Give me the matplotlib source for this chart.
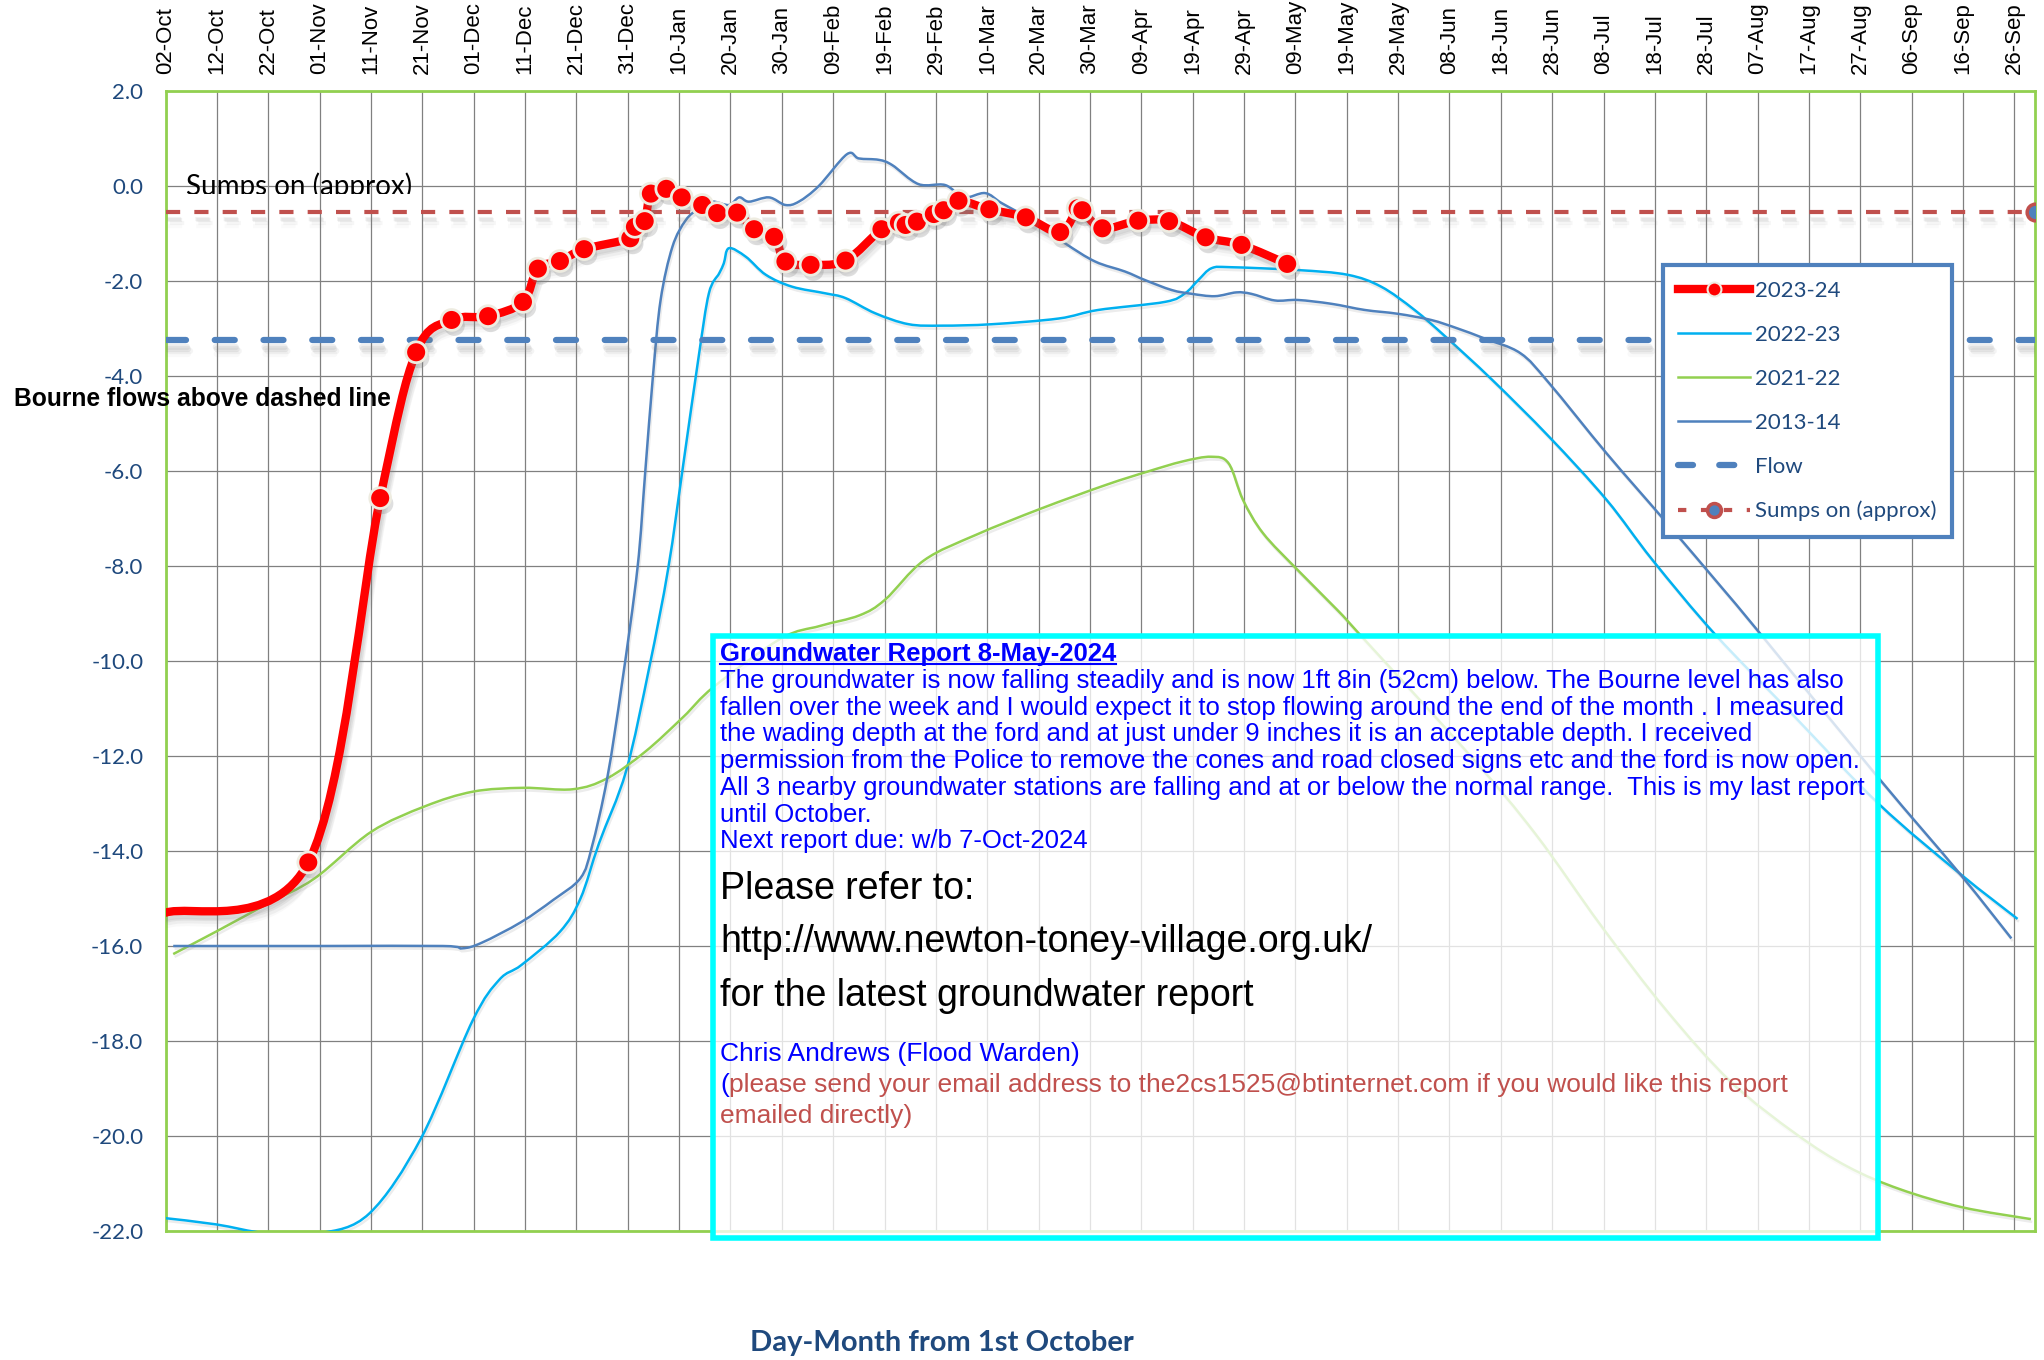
# -*- coding: utf-8 -*-
"""
Groundwater level chart, Oct 2023 - Sep 2024, with older years for comparison
"""
import matplotlib
matplotlib.use("Agg")
import matplotlib.pyplot as plt
import matplotlib.patheffects as pe
import numpy as np
from matplotlib.path import Path
from matplotlib.patches import PathPatch, Rectangle
from matplotlib.lines import Line2D
from matplotlib.ticker import FormatStrFormatter
from matplotlib.transforms import Bbox

plt.rcParams['font.family'] = ['Liberation Sans', 'DejaVu Sans']

# x values are days after 02-Oct
tick_days = list(range(0, 361, 10))
tick_labels = ['02-Oct', '12-Oct', '22-Oct', '01-Nov', '11-Nov', '21-Nov', '01-Dec', '11-Dec',
               '21-Dec', '31-Dec', '10-Jan', '20-Jan', '30-Jan', '09-Feb', '19-Feb', '29-Feb',
               '10-Mar', '20-Mar', '30-Mar', '09-Apr', '19-Apr', '29-Apr', '09-May', '19-May',
               '29-May', '08-Jun', '18-Jun', '28-Jun', '08-Jul', '18-Jul', '28-Jul', '07-Aug',
               '17-Aug', '27-Aug', '06-Sep', '16-Sep', '26-Sep']

days_2324 = [0, 27.8, 41.8, 48.8, 55.7, 62.8, 69.6, 72.5, 76.8, 81.5, 90.5, 91.4, 93.3, 94.5,
             97.5, 100.5, 104.5, 107.4, 111.3, 114.6, 118.5, 120.7, 125.6, 132.4, 139.4, 142.8,
             144.1, 146.3, 149.6, 151.5, 154.4, 160.4, 167.5, 174.2, 177.6, 178.5, 182.4, 189.4,
             195.4, 202.5, 209.5, 218.4]
level_2324 = [-15.3, -14.24, -6.57, -3.50, -2.82, -2.74, -2.44, -1.74, -1.58, -1.33, -1.10, -0.86,
              -0.74, -0.16, -0.06, -0.24, -0.40, -0.57, -0.56, -0.91, -1.07, -1.59, -1.66, -1.57,
              -0.91, -0.77, -0.82, -0.75, -0.59, -0.51, -0.31, -0.49, -0.66, -0.97, -0.47, -0.51,
              -0.89, -0.73, -0.74, -1.08, -1.24, -1.64]

days_2223 = [0, 9.8, 19.7, 30, 39.7, 49.8, 59.8, 65.0, 69.3, 76.8, 80.8, 84.4, 89.7, 94.2, 97.9,
             100.8, 103.8, 105.8, 107.8, 108.7, 109.7, 113.0, 116.9, 122.0, 128.5, 132.4, 138.2,
             144.7, 151.2, 160.9, 173.9, 181.6, 194.6, 198.5, 201.1, 203.7, 207.5, 220.5, 230.2,
             236.7, 243.2, 249.2, 258.3, 269.4, 280.6, 289.5, 301.8, 317.0, 333.6, 349.3, 360.6]
level_2223 = [-21.73, -21.86, -22.05, -22.05, -21.63, -20.04, -17.57, -16.71, -16.4, -15.7, -15.0,
              -13.84, -12.31, -10.13, -8.04, -5.87, -3.6, -2.26, -1.84, -1.63, -1.31, -1.49, -1.87,
              -2.12, -2.26, -2.36, -2.68, -2.91, -2.94, -2.91, -2.79, -2.61, -2.44, -2.26, -1.98,
              -1.73, -1.71, -1.77, -1.87, -2.12, -2.61, -3.17, -4.08, -5.28, -6.61, -7.87, -9.45,
              -11.15, -13.01, -14.47, -15.43]

days_2122 = [1.5, 9.8, 19.7, 29.0, 40.0, 50.5, 59.9, 69.6, 79.3, 86.0, 93.4, 100.8, 106.8, 119.8,
             127.5, 135.1, 140.1, 147.7, 157.9, 170.5, 183.2, 191.3, 198.0, 203.6, 207.0, 209.8,
             213.7, 220.4, 228.2, 232.6, 254.1, 266.8, 279.5, 292.2, 304.8, 317.5, 327.6, 337.7,
             349.8, 363.2]
level_2122 = [-16.17, -15.70, -15.12, -14.58, -13.6, -13.06, -12.75, -12.67, -12.70, -12.47, -11.91,
              -11.18, -10.54, -9.53, -9.26, -9.04, -8.71, -7.88, -7.34, -6.79, -6.29, -6.01, -5.80,
              -5.70, -5.84, -6.61, -7.31, -8.08, -8.93, -9.45, -12.0, -13.65, -15.57, -17.35,
              -18.86, -19.96, -20.65, -21.12, -21.5, -21.75]

days_1314 = [1.5, 30, 54, 57.8, 61.6, 69.2, 75.5, 80.8, 83.0, 86.0, 88.9, 91.9, 93.4, 94.9, 96.4,
             98.7, 101.3, 103.9, 106.5, 109.7, 111.7, 113.6, 117.5, 120.7, 123.3, 127.2, 132.7,
             135.0, 138.9, 141.5, 146.6, 151.8, 155.4, 159.6, 162.8, 168.7, 175.2, 181.0, 186.8,
             190.7, 195.9, 199.8, 204.3, 208.5, 211.4, 216.0, 220.5, 227.0, 233.5, 239.9, 246.4,
             251.6, 256.8, 263.8, 269.4, 280.6, 291.8, 302.9, 310.7, 333.6, 349.3, 359.4]
level_1314 = [-16.0, -16.0, -16.0, -16.05, -15.93, -15.5, -15.03, -14.57, -13.92, -12.47, -10.46,
              -8.04, -6.03, -4.01, -2.40, -1.28, -0.72, -0.47, -0.33, -0.40, -0.24, -0.33, -0.24,
              -0.40, -0.33, 0.0, 0.67, 0.58, 0.55, 0.44, 0.04, 0.02, -0.24, -0.15, -0.36, -0.72,
              -1.21, -1.59, -1.80, -1.98, -2.19, -2.27, -2.32, -2.24, -2.27, -2.41, -2.40, -2.48,
              -2.61, -2.69, -2.82, -3.0, -3.21, -3.52, -4.15, -5.63, -7.03, -8.44, -9.45, -12.47,
              -14.47, -15.84]

flow_days = [0, 364]
flow_level = [-3.25, -3.25]
sumps_days = [0, 364]
sumps_level = [-0.55, -0.55]

RED = '#FF0000'
LIGHT_BLUE = '#00B0F0'
GREEN = '#92D050'
STEEL = '#4F81BD'
SUMPS_RED = '#C0504D'
NAVY = '#1F497D'
BLUE = '#0000FF'

W, H = 2044, 1360


def smooth_path(xs, ys):
    # Excel style smoothed line: cubic bezier through every point
    pts = np.column_stack([xs, ys]).astype(float)
    verts = [pts[0]]
    codes = [Path.MOVETO]
    n = len(pts)
    for i in range(n - 1):
        p0 = pts[max(i - 1, 0)]
        p1 = pts[i]
        p2 = pts[i + 1]
        p3 = pts[min(i + 2, n - 1)]
        verts += [p1 + (p2 - p0) / 6, p2 - (p3 - p1) / 6, p2]
        codes += [Path.CURVE4] * 3
    return Path(verts, codes)


def soft_shadow(dy, alpha):
    # a few faint offset copies give a blurred looking shadow
    effects = []
    for ox, oy, a in [(1, -dy + 1, alpha), (2, -dy, alpha), (3, -dy - 2, alpha * 0.7),
                      (2, -dy - 4, alpha * 0.4)]:
        effects.append(pe.SimpleLineShadow(offset=(ox, oy), shadow_color='#808080', alpha=a))
    effects.append(pe.Normal())
    return effects


fig = plt.figure(figsize=(W / 100, H / 100), dpi=100)
ax = fig.add_axes([165.5 / W, 1 - 1231 / H, (2035 - 165.5) / W, 1140 / H])

ax.set_xlim(0, 364)
ax.set_ylim(-22, 2)
ax.set_xticks(tick_days)
ax.set_xticklabels(tick_labels, rotation=90, fontsize=16, va='bottom', ha='center')
ax.xaxis.tick_top()
ax.set_yticks(np.arange(-22, 2.1, 2))
ax.yaxis.set_major_formatter(FormatStrFormatter('%.1f'))
ax.tick_params(axis='x', length=0, pad=12)
ax.tick_params(axis='y', length=0, pad=16, labelcolor=NAVY, labelsize=16)
for lab in ax.get_yticklabels():
    lab.set_family(['Lato', 'DejaVu Sans'])
ax.grid(True, color='#808080', lw=0.9)
ax.set_axisbelow(True)
for s in ax.spines.values():
    s.set_color(GREEN)
    s.set_linewidth(2)

# older years, thin smoothed lines
for xs, ys, col in [(days_2223, level_2223, LIGHT_BLUE), (days_2122, level_2122, GREEN),
                    (days_1314, level_1314, STEEL)]:
    p = PathPatch(smooth_path(xs, ys), fill=False, ec=col, lw=1.8, zorder=3,
                  path_effects=[pe.SimpleLineShadow(offset=(1, -2), shadow_color='#808080', alpha=0.15),
                                pe.Normal()])
    ax.add_patch(p)

# flow and sumps reference lines
ax.plot(flow_days, flow_level, color=STEEL, lw=4.5, dashes=(3.2, 4.6), dash_capstyle='round',
        zorder=4, path_effects=soft_shadow(6, 0.12))
ax.plot(sumps_days, sumps_level, color=SUMPS_RED, lw=3, dashes=(3.4, 3.4), zorder=4,
        path_effects=soft_shadow(6, 0.1))
ax.plot(sumps_days[-1:], sumps_level[-1:], 'o', ms=12, mfc=STEEL, mec=SUMPS_RED, mew=2.5, zorder=5)

# 2023-24
ax.add_patch(PathPatch(smooth_path(days_2324, level_2324), fill=False, ec=RED, lw=6, zorder=6,
                       capstyle='round', joinstyle='round', path_effects=soft_shadow(4, 0.12)))
ax.plot(days_2324[1:], level_2324[1:], 'o', ms=15, mfc=RED, mec='#EEECE1', mew=2, zorder=7,
        path_effects=[pe.SimplePatchShadow(offset=(2, -4), shadow_rgbFace='#808080', alpha=0.25),
                      pe.Normal()])

handles = [
    Line2D([], [], color=RED, lw=6, marker='o', ms=10, mfc=RED, mec='#EEECE1', mew=1.5),
    Line2D([], [], color=LIGHT_BLUE, lw=1.8),
    Line2D([], [], color=GREEN, lw=1.8),
    Line2D([], [], color=STEEL, lw=1.8),
    Line2D([], [], color=STEEL, lw=4.5, dashes=(2.4, 4.2), dash_capstyle='round'),
    Line2D([], [], color=SUMPS_RED, lw=3, dashes=(2, 3.5), marker='o', ms=10, mfc=STEEL,
           mec=SUMPS_RED, mew=2.5),
]
labels = ['2023-24', '2022-23', '2021-22', '2013-14', 'Flow', 'Sumps on (approx)']
leg = ax.legend(handles, labels, loc='upper left', bbox_to_anchor=(0.795, 0.857),
                handlelength=3.2, labelspacing=1.08, borderpad=0.7, handletextpad=0.25,
                fancybox=False, framealpha=1, prop={'family': ['Lato', 'DejaVu Sans'], 'size': 16})
leg.get_frame().set_edgecolor(STEEL)
leg.get_frame().set_linewidth(3)
for t in leg.get_texts():
    t.set_color(NAVY)
leg.set_zorder(10)

# labels on the chart
st = fig.text(186 / W, 1 - 186 / H, 'Sumps on (approx)', fontsize=20, va='center',
              family=['Lato', 'DejaVu Sans'], color='black')
st.set_clip_box(Bbox([[0, H - 194], [W, H]]))
st.set_clip_on(True)
fig.text(14 / W, 1 - 399 / H, 'Bourne flows above dashed line', fontsize=17.7, weight='bold',
         va='center')
fig.text(942 / W, 1 - 1343 / H, 'Day-Month from 1st October', fontsize=21, weight='bold',
         color=NAVY, ha='center', va='center', family=['Lato', 'DejaVu Sans'])

# report text box
fig.add_artist(Rectangle((713 / W, 1 - 1238 / H), (1878 - 713) / W, (1238 - 636) / H,
                         transform=fig.transFigure, fc=(1, 1, 1, 0.78), ec='#00FFFF', lw=4,
                         zorder=8))

tx = 720 / W
title = fig.text(tx, 1 - 661 / H, 'Groundwater Report 8-May-2024', fontsize=18.5, weight='bold',
                 color=BLUE, va='baseline', zorder=9)
para = ['The groundwater is now falling steadily and is now 1ft 8in (52cm) below. The Bourne level has also',
        'fallen over the week and I would expect it to stop flowing around the end of the month . I measured',
        'the wading depth at the ford and at just under 9 inches it is an acceptable depth. I received',
        'permission from the Police to remove the cones and road closed signs etc and the ford is now open.',
        'All 3 nearby groundwater stations are falling and at or below the normal range.  This is my last report',
        'until October.',
        'Next report due: w/b 7-Oct-2024']
for i, line in enumerate(para):
    fig.text(tx, 1 - (681 + i * 26.7) / H, line, fontsize=18.5, color=BLUE, va='center', zorder=9)
fig.text(tx, 1 - 889 / H, 'Please refer to:', fontsize=27, va='center', zorder=9)
fig.text(tx, 1 - 942 / H, 'http://www.newton-toney-village.org.uk/', fontsize=27, va='center', zorder=9)
fig.text(tx, 1 - 996 / H, 'for the latest groundwater report', fontsize=27, va='center', zorder=9)
fig.text(tx, 1 - 1054 / H, 'Chris Andrews (Flood Warden)', fontsize=19, color=BLUE, va='center', zorder=9)
paren = fig.text(tx, 1 - 1085 / H, '(', fontsize=19, color=BLUE, va='center', zorder=9)

fig.canvas.draw()
r = fig.canvas.get_renderer()
pw = paren.get_window_extent(r).width
fig.text(tx + pw / W, 1 - 1085 / H,
         'please send your email address to the2cs1525@btinternet.com if you would like this report',
         fontsize=19, color=SUMPS_RED, va='center', zorder=9)
fig.text(tx, 1 - 1116 / H, 'emailed directly)', fontsize=19, color=SUMPS_RED, va='center', zorder=9)
tb = title.get_window_extent(r)
fig.add_artist(Line2D([tb.x0 / W, tb.x1 / W], [1 - 664 / H, 1 - 664 / H], color=BLUE, lw=1.5,
                      transform=fig.transFigure, zorder=9))

fig.savefig('out.png', dpi=100)
